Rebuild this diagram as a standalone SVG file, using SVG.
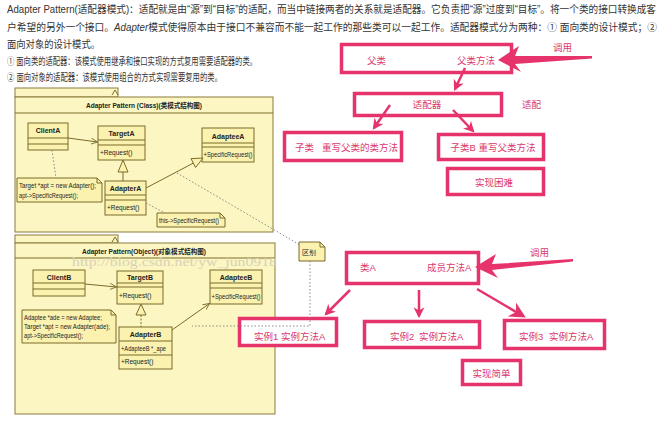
<svg xmlns="http://www.w3.org/2000/svg" width="666" height="426" viewBox="0 0 666 426">
<style>
.t{font-family:"Liberation Sans","Noto Sans CJK SC",sans-serif;font-size:10px;fill:#333}
.pk{fill:#fff;stroke:#e6336b;stroke-width:3.5}
.pt{font-family:"Liberation Sans","Noto Sans CJK SC",sans-serif;font-size:9.5px;fill:#d9386e}
.pkg{fill:#fcf6c2;stroke:#8a7a3a;stroke-width:1}
.cls{fill:#fbf2b0;stroke:#7b6a2a;stroke-width:1}
.ln{stroke:#7b6a2a;stroke-width:1;fill:none}
.un{font-family:"Liberation Sans","Noto Sans CJK SC",sans-serif;font-size:7px;font-weight:bold;fill:#222;text-anchor:middle}
.um{font-family:"Liberation Sans",sans-serif;font-size:6.5px;fill:#222}
.dot{stroke:#888;stroke-width:1;stroke-dasharray:1.5,2;fill:none}
.pa{stroke:#e6336b;stroke-width:2.5;fill:none}
.wm{font-family:"Liberation Serif",serif;font-size:13px;fill:#d8d1b6}
</style>
<defs>
<marker id="ph" viewBox="0 0 10 10" refX="8" refY="5" markerWidth="11" markerHeight="11" markerUnits="userSpaceOnUse" orient="auto"><path d="M0,0 L10,5 L0,10 L3,5 z" fill="#e6336b"/></marker>
<marker id="phb" viewBox="0 0 10 10" refX="8" refY="5" markerWidth="16" markerHeight="16" markerUnits="userSpaceOnUse" orient="auto"><path d="M0,0 L10,5 L0,10 L3,5 z" fill="#e6336b"/></marker>
<marker id="oa" viewBox="0 0 8 8" refX="7.5" refY="4" markerWidth="7" markerHeight="7" markerUnits="userSpaceOnUse" orient="auto"><path d="M0,0.5 L7.5,4 L0,7.5" fill="none" stroke="#7b6a2a" stroke-width="1"/></marker>
</defs>
<rect width="666" height="426" fill="#fff"/>

<g id="intro">
<text class="t" x="7" y="13" textLength="649" lengthAdjust="spacingAndGlyphs">Adapter Pattern(适配器模式)：适配就是由“源”到“目标”的适配，而当中链接两者的关系就是适配器。它负责把“源”过度到“目标”。将一个类的接口转换成客</text>
<text class="t" x="7" y="30.5" textLength="650" lengthAdjust="spacingAndGlyphs">户希望的另外一个接口。<tspan font-style="italic">Adapter</tspan>模式使得原本由于接口不兼容而不能一起工作的那些类可以一起工作。适配器模式分为两种：① 面向类的设计模式；②</text>
<text class="t" x="7" y="48" textLength="93" lengthAdjust="spacingAndGlyphs">面向对象的设计模式。</text>
<text class="t" x="7" y="64.5" textLength="250" lengthAdjust="spacingAndGlyphs">① 面向类的适配器：该模式使用继承和接口实现的方式复用需要适配器的类。</text>
<text class="t" x="7" y="80.5" textLength="215" lengthAdjust="spacingAndGlyphs">② 面向对象的适配器：该模式使用组合的方式实现需要复用的类。</text>
</g>

<g id="pkgClass">
<rect class="pkg" x="15" y="88" width="103" height="9"/>
<path class="ln" d="M112,95 L115,90 L118,95"/>
<rect class="pkg" x="15" y="97" width="258" height="135"/>
<line class="ln" x1="15" y1="113" x2="273" y2="113"/>
<text class="un" x="144" y="107.5" textLength="116" lengthAdjust="spacingAndGlyphs">Adapter Pattern (Class)(类模式结构图)</text>
</g>
<g id="clientA">
<rect class="cls" x="28" y="123" width="40" height="27"/>
<line class="ln" x1="28" y1="138" x2="68" y2="138"/><line class="ln" x1="28" y1="144" x2="68" y2="144"/>
<text class="un" x="48" y="133">ClientA</text>
</g>
<g id="targetA">
<rect class="cls" x="98" y="126" width="47" height="34"/>
<line class="ln" x1="98" y1="140" x2="145" y2="140"/><line class="ln" x1="98" y1="145" x2="145" y2="145"/>
<text class="un" x="121.5" y="135.5">TargetA</text>
<text class="um" x="100" y="155">+Request()</text>
</g>
<g id="adapteeA">
<rect class="cls" x="202" y="128" width="52" height="34"/>
<line class="ln" x1="202" y1="143" x2="254" y2="143"/><line class="ln" x1="202" y1="147" x2="254" y2="147"/>
<text class="un" x="228" y="138.5">AdapteeA</text>
<text class="um" x="203.5" y="157" textLength="49" lengthAdjust="spacingAndGlyphs">+SpecificRequest()</text>
</g>
<g id="adapterA">
<rect class="cls" x="105" y="181" width="41" height="34"/>
<line class="ln" x1="105" y1="195" x2="146" y2="195"/><line class="ln" x1="105" y1="200" x2="146" y2="200"/>
<text class="un" x="125.5" y="190.5">AdapterA</text>
<text class="um" x="107" y="210">+Request()</text>
</g>
<g id="noteA1">
<path class="cls" d="M17,178 H97 L102,183 V202 H17 Z"/><path class="ln" d="M97,178 V183 H102"/>
<text class="um" x="19" y="187.5" textLength="77" lengthAdjust="spacingAndGlyphs">Target *apt = new Adapter();</text>
<text class="um" x="19" y="197.5" textLength="59" lengthAdjust="spacingAndGlyphs">apt-&gt;SpecificRequest();</text>
</g>
<g id="noteA2">
<path class="cls" d="M157,213 H220 L225,218 V227 H157 Z"/><path class="ln" d="M220,213 V218 H225"/>
<text class="um" x="159" y="223" textLength="60" lengthAdjust="spacingAndGlyphs">this-&gt;SpecificRequest()</text>
</g>

<g id="pkgObject">
<rect class="pkg" x="15" y="235" width="103" height="8"/>
<path class="ln" d="M112,242 L115,237 L118,242"/>
<rect class="pkg" x="15" y="243" width="260" height="171"/>
<line class="ln" x1="15" y1="258" x2="275" y2="258"/>
<text class="un" x="144" y="253.5" textLength="124" lengthAdjust="spacingAndGlyphs">Adapter Pattern(Object)(对象模式结构图)</text>
<text class="wm" x="72" y="266" textLength="205" lengthAdjust="spacingAndGlyphs">http://blog.csdn.net/yw_jun0918</text>
</g>
<g id="clientB">
<rect class="cls" x="33" y="270" width="52" height="26"/>
<line class="ln" x1="33" y1="283" x2="85" y2="283"/><line class="ln" x1="33" y1="289" x2="85" y2="289"/>
<text class="un" x="59" y="279.5">ClientB</text>
</g>
<g id="targetB">
<rect class="cls" x="117" y="271" width="46" height="33"/>
<line class="ln" x1="117" y1="283" x2="163" y2="283"/><line class="ln" x1="117" y1="287" x2="163" y2="287"/>
<text class="un" x="140" y="280">TargetB</text>
<text class="um" x="119" y="298">+Request()</text>
</g>
<g id="adapteeB">
<rect class="cls" x="210" y="270" width="52" height="34"/>
<line class="ln" x1="210" y1="283" x2="262" y2="283"/><line class="ln" x1="210" y1="288" x2="262" y2="288"/>
<text class="un" x="236" y="279.5">AdapteeB</text>
<text class="um" x="211.5" y="299" textLength="49" lengthAdjust="spacingAndGlyphs">+SpecificRequest()</text>
</g>
<g id="adapterB">
<rect class="cls" x="119" y="327" width="53" height="42"/>
<line class="ln" x1="119" y1="341" x2="172" y2="341"/><line class="ln" x1="119" y1="355" x2="172" y2="355"/>
<text class="un" x="145.5" y="337">AdapterB</text>
<text class="um" x="121" y="350.5" textLength="45" lengthAdjust="spacingAndGlyphs">+AdapteeB *_ape</text>
<text class="um" x="121" y="364">+Request()</text>
</g>
<g id="noteB">
<path class="cls" d="M22,310 H111 L116,315 V343 H22 Z"/><path class="ln" d="M111,310 V315 H116"/>
<text class="um" x="24" y="319.5" textLength="78" lengthAdjust="spacingAndGlyphs">Adaptee *ade = new Adaptee;</text>
<text class="um" x="24" y="328.5" textLength="86" lengthAdjust="spacingAndGlyphs">Target *apt = new Adapter(ade);</text>
<text class="um" x="24" y="338" textLength="59" lengthAdjust="spacingAndGlyphs">apt-&gt;SpecificRequest();</text>
</g>
<g id="noteDiff">
<path class="cls" d="M299,242 H320 L325,247 V261 H299 Z"/><path class="ln" d="M320,242 V247 H325"/>
<text class="um" x="302" y="254.5" font-size="7">区别</text>
</g>

<g id="boxParent"><rect class="pk" x="341.5" y="44.5" width="170" height="28"/>
<text class="pt" x="367" y="63.5">父类</text><text class="pt" x="457" y="63.5">父类方法</text></g>
<g id="boxAdapter"><rect class="pk" x="354.5" y="93.5" width="147" height="22"/>
<text class="pt" x="427" y="107.5" text-anchor="middle">适配器</text></g>
<g id="boxSubA"><rect class="pk" x="284.5" y="132.5" width="117" height="28"/>
<text class="pt" x="295" y="150.5">子类</text><text class="pt" x="322" y="150.5">重写父类的类方法</text></g>
<g id="boxSubB"><rect class="pk" x="438.5" y="134.5" width="105" height="25"/>
<text class="pt" x="493" y="150.5" text-anchor="middle">子类B 重写父类方法</text></g>
<g id="boxHard"><rect class="pk" x="447.5" y="168.5" width="96" height="26"/>
<text class="pt" x="494" y="185.5" text-anchor="middle">实现困难</text></g>
<g id="boxClassA"><rect class="pk" x="346.5" y="252.5" width="132" height="31"/>
<text class="pt" x="360" y="270.5">类A</text><text class="pt" x="427" y="270.5">成员方法A</text></g>
<g id="boxInst1"><rect class="pk" x="239.5" y="318.5" width="97" height="27"/>
<text class="pt" x="254" y="339.5">实例1</text><text class="pt" x="281" y="339.5">实例方法A</text></g>
<g id="boxInst2"><rect class="pk" x="364.5" y="321.5" width="115" height="26"/>
<text class="pt" x="390" y="339.5">实例2</text><text class="pt" x="419" y="339.5">实例方法A</text></g>
<g id="boxInst3"><rect class="pk" x="504.5" y="320.5" width="100" height="28"/>
<text class="pt" x="519" y="339.5">实例3</text><text class="pt" x="549" y="339.5">实例方法A</text></g>
<g id="boxEasy"><rect class="pk" x="462.5" y="360.5" width="58" height="24"/>
<text class="pt" x="491.5" y="377" text-anchor="middle">实现简单</text></g>
<g id="labels">
<text class="pt" x="553" y="50.5">调用</text>
<text class="pt" x="522" y="107.5">适配</text>
<text class="pt" x="530" y="255.5">调用</text>
</g>

<g id="connectors">
<line class="ln" x1="68" y1="138" x2="97.5" y2="142" marker-end="url(#oa)"/>
<line class="ln" x1="123" y1="172" x2="123" y2="181"/>
<path class="cls" d="M123,160 L118,172 L128,172 Z"/>
<line class="ln" x1="146" y1="188" x2="193.3" y2="163.1"/>
<path class="cls" d="M203,158 L195.6,167.5 L191,158.7 Z"/>
<line class="dot" x1="52" y1="150" x2="56" y2="178"/>
<line class="dot" x1="146" y1="203" x2="165" y2="213"/>
<line class="ln" x1="85" y1="284" x2="116.5" y2="287" marker-end="url(#oa)"/>
<line class="ln" x1="141" y1="315" x2="141" y2="327" stroke-dasharray="2,1.5"/>
<path class="cls" d="M141,304 L136,315 L146,315 Z"/>
<line class="ln" x1="172" y1="330" x2="209.5" y2="303.5" marker-end="url(#oa)"/>
<line class="dot" x1="177" y1="173" x2="300" y2="245"/>
<polyline class="dot" points="310,261 310,326 192,326"/>
<path fill="#e6336b" d="M498,60 L519,46 L515,56 L592,56 L592,58.5 L515,64 L521,72 Z"/>
<path fill="#e6336b" d="M475,267 L496,254 L492,264 L573,259 L573,261.5 L492,270 L498,278 Z"/>
<line class="pa" x1="465" y1="68" x2="455" y2="89" marker-end="url(#ph)"/>
<line class="pa" x1="390" y1="105" x2="374" y2="128" marker-end="url(#ph)"/>
<line class="pa" x1="453" y1="110" x2="473" y2="131" marker-end="url(#ph)"/>
<line class="pa" x1="350" y1="290" x2="326" y2="314" marker-end="url(#ph)"/>
<line class="pa" x1="419" y1="290" x2="419" y2="316" marker-end="url(#ph)"/>
<line class="pa" x1="477" y1="289" x2="523" y2="316" stroke-width="4" marker-end="url(#phb)"/>
</g>
</svg>
